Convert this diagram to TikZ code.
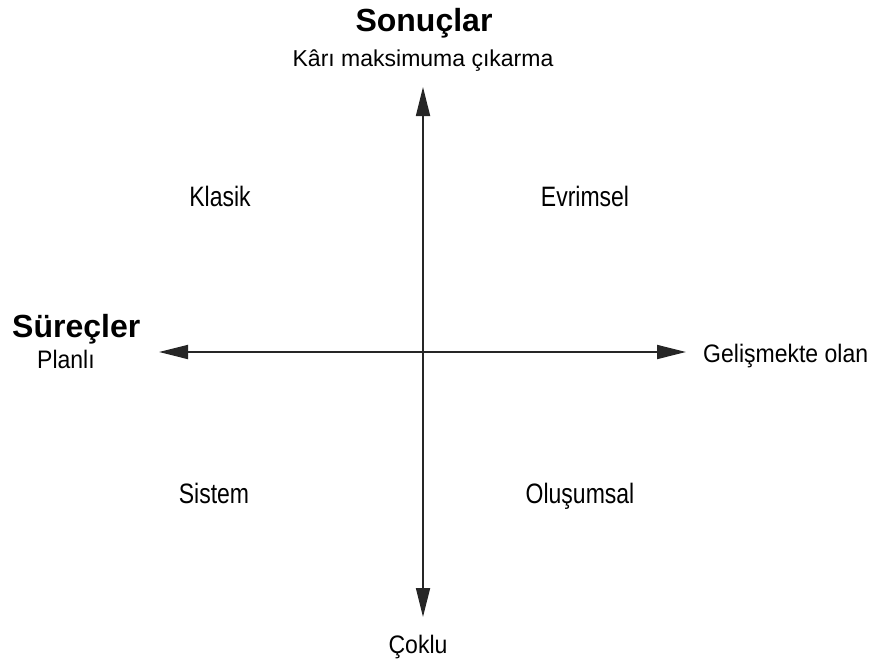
\documentclass[tikz,border=0pt]{standalone}
\usepackage{fontspec}
\setmainfont{Liberation Sans}
\usetikzlibrary{arrows.meta}
\newcommand{\tallq}[1]{\scalebox{1}[1.22]{#1}}
\newcommand{\tallr}[1]{\scalebox{1}[1.1]{#1}}
\begin{document}
\begin{tikzpicture}[x=1pt,y=-1pt,
  lbl/.style={inner sep=0pt,anchor=base,font=\fontsize{23}{27}\selectfont},
  ttl/.style={inner sep=0pt,anchor=base,font=\fontsize{32}{36}\selectfont\bfseries},
  axis/.style={line width=1.8pt,draw=black!85,-{Triangle[length=29pt,width=14pt]}}]
\useasboundingbox (0,0) rectangle (874,666);
\coordinate (c) at (423,352);
\coordinate (top) at (423,87);
\coordinate (bot) at (423,617);
\coordinate (lft) at (159,352);
\coordinate (rgt) at (686,352);
\draw[axis] (c) -- (top);
\draw[axis] (c) -- (bot);
\draw[axis] (c) -- (lft);
\draw[axis] (c) -- (rgt);
\node[ttl] (sonuc) at (424,32) {Sonuçlar};
\node[lbl] (kar) at (423,67) {Kârı maksimuma çıkarma};
\node[ttl,anchor=base west] (surec) at (12,337) {Süreçler};
\node[lbl,anchor=base west] (planli) at (37,368) {\tallr{Planlı}};
\node[lbl,anchor=base west] (gelis) at (703,362) {\tallr{Gelişmekte olan}};
\node[lbl] (coklu) at (418,653) {\tallr{Çoklu}};
\node[lbl] (klasik) at (220,206) {\tallq{Klasik}};
\node[lbl] (evrim) at (585,206) {\tallq{Evrimsel}};
\node[lbl] (sistem) at (214,503) {\tallq{Sistem}};
\node[lbl] (olusum) at (580,503) {\tallq{Oluşumsal}};
\end{tikzpicture}
\end{document}
